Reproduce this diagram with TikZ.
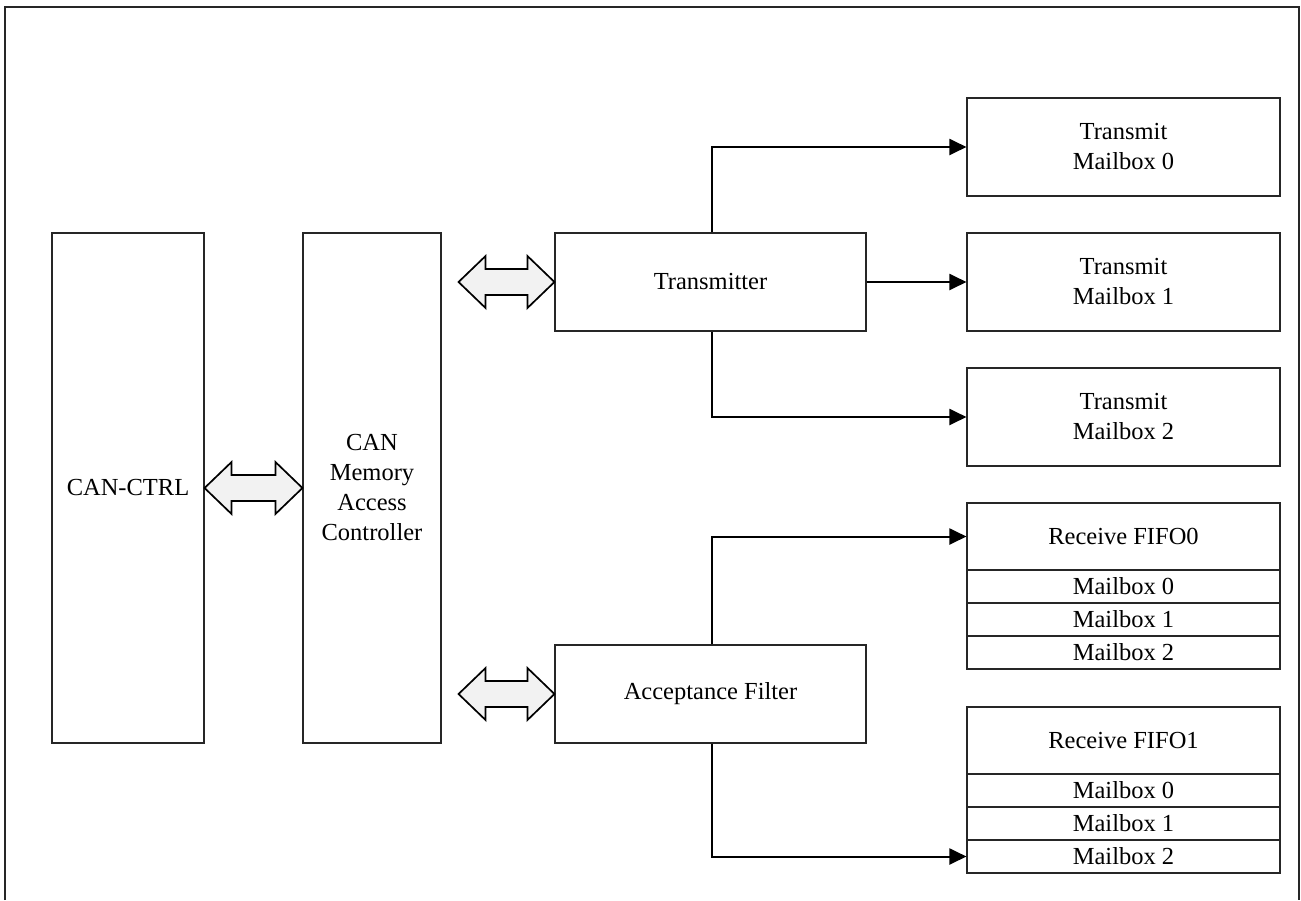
\documentclass[tikz,border=0pt]{standalone}
\usepackage{fontspec}
\setmainfont{Liberation Serif}
\usetikzlibrary{arrows.meta,calc}
\definecolor{arrfill}{HTML}{F2F2F2}
\newcommand\dblarrow[2]{%
  \path[dbl] let \p1=(#1), \p2=(#2) in
    (\x1,\y1) -- (\x1+27pt,\y1+26pt) -- (\x1+27pt,\y1+13pt) -- (\x2-27pt,\y1+13pt)
    -- (\x2-27pt,\y1+26pt) -- (\x2,\y1) -- (\x2-27pt,\y1-26pt) -- (\x2-27pt,\y1-13pt)
    -- (\x1+27pt,\y1-13pt) -- (\x1+27pt,\y1-26pt) -- cycle;}
\begin{document}
\begin{tikzpicture}[x=1pt,y=-1pt,
  box/.style={draw=black!85, line width=1.1pt, fill=white, inner sep=0pt, align=center,
    font=\fontsize{24.5}{30}\selectfont},
  conn/.style={line width=2pt, -{Triangle[length=17pt,width=16pt]}},
  dbl/.style={draw=black, line width=1.7pt, fill=arrfill, line join=miter}]
\useasboundingbox (0,0) rectangle (1301,900);
\draw[line width=1.4pt, black!85] (5,900) -- (5,7) -- (1299,7) -- (1299,900);

% left blocks
\node[box, minimum width=152, minimum height=510] (ctrl) at (128,488) {CAN-CTRL};
\node[box, minimum width=138, minimum height=510] (mac) at (372,488) {CAN\\Memory\\Access\\Controller};
\node[box, minimum width=311, minimum height=98] (tx) at (710.5,282) {Transmitter};
\node[box, minimum width=311, minimum height=98] (af) at (710.5,694) {Acceptance Filter};

% transmit mailboxes
\node[box, minimum width=313, minimum height=98] (tm0) at (1123.5,147) {Transmit\\Mailbox 0};
\node[box, minimum width=313, minimum height=98] (tm1) at (1123.5,282) {Transmit\\Mailbox 1};
\node[box, minimum width=313, minimum height=98] (tm2) at (1123.5,417) {Transmit\\Mailbox 2};

% receive FIFO0
\node[box, minimum width=313, minimum height=67] (rf0) at (1123.5,536.5) {Receive FIFO0};
\node[box, minimum width=313, minimum height=33] (rf0a) at (1123.5,586.5) {Mailbox 0};
\node[box, minimum width=313, minimum height=33] (rf0b) at (1123.5,619.5) {Mailbox 1};
\node[box, minimum width=313, minimum height=33] (rf0c) at (1123.5,652.5) {Mailbox 2};

% receive FIFO1
\node[box, minimum width=313, minimum height=67] (rf1) at (1123.5,740.5) {Receive FIFO1};
\node[box, minimum width=313, minimum height=33] (rf1a) at (1123.5,790.5) {Mailbox 0};
\node[box, minimum width=313, minimum height=33] (rf1b) at (1123.5,823.5) {Mailbox 1};
\node[box, minimum width=313, minimum height=33] (rf1c) at (1123.5,856.5) {Mailbox 2};

% connectors
\draw[conn] ($(tx.north)+(1.5,0)$) |- (tm0.west);
\draw[conn] (tx.east) -- (tm1.west);
\draw[conn] ($(tx.south)+(1.5,0)$) |- (tm2.west);
\draw[conn] ($(af.north)+(1.5,0)$) |- (rf0.west);
\draw[conn] ($(af.south)+(1.5,0)$) |- (rf1c.west);

% double arrows
\coordinate (txl) at ($(mac.east |- tx.west)+(17,0)$);
\coordinate (afl) at ($(mac.east |- af.west)+(17,0)$);
\dblarrow{ctrl.east}{mac.west}
\dblarrow{txl}{tx.west}
\dblarrow{afl}{af.west}
\end{tikzpicture}
\end{document}
